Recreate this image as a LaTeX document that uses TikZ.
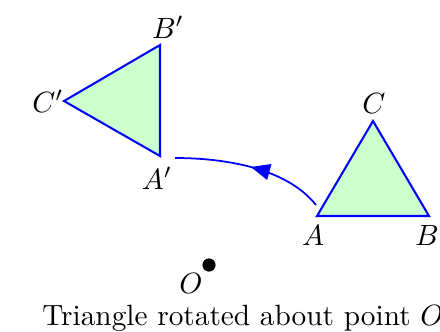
\documentclass[tikz,border=0pt]{standalone}
\usepackage{amsmath,amssymb}
\usepackage{xcolor}
\usetikzlibrary{arrows.meta,positioning,calc,decorations.markings}
\definecolor{triblue}{RGB}{0,0,255}
\definecolor{trifill}{RGB}{204,255,204}
\tikzset{
  tri/.style={draw=triblue,fill=trifill,line width=0.7pt,line join=miter},
  rotarc/.style={draw=triblue,line width=0.6pt,
    decoration={markings,mark=at position 0.5 with {\arrow{Triangle[length=6.5pt,width=5.5pt]}}},
    postaction={decorate}},
}
\begin{document}
\begin{tikzpicture}[x=0.012cm,y=-0.012cm,>=Stealth]
  \useasboundingbox (0,0) rectangle (440,331);
  % original triangle
  \coordinate (A) at (317,216);
  \coordinate (B) at (429,216);
  \coordinate (C) at (373,121);
  % image triangle
  \coordinate (A') at (160,156);
  \coordinate (B') at (160,45);
  \coordinate (C') at (64,101);
  \draw[tri] (A) -- (B) -- (C) -- cycle;
  \draw[tri] (A') -- (B') -- (C') -- cycle;
  % vertex labels
  \node (lA) at (313,235) {$A$};
  \node (lB) at (427,235) {$B$};
  \node (lC) at (374,103) {$C$};
  \node (lA') at (157,178) {$A'$};
  \node (lB') at (168,27) {$B'$};
  \node (lC') at (48,101) {$C'$};
  % centre of rotation
  \node[circle,fill=black,inner sep=0pt,minimum size=4.5pt] (O) at (209,265) {};
  \node (lO) at (191,283) {$O$};
  % rotation path
  \coordinate (arcstart) at (316,205);
  \coordinate (arcend) at (175,158);
  \draw[rotarc] (arcstart) .. controls (290,172) and (235,158) .. (arcend);
  \node (caption) at (243,318) {Triangle rotated about point $O$};
\end{tikzpicture}
\end{document}
